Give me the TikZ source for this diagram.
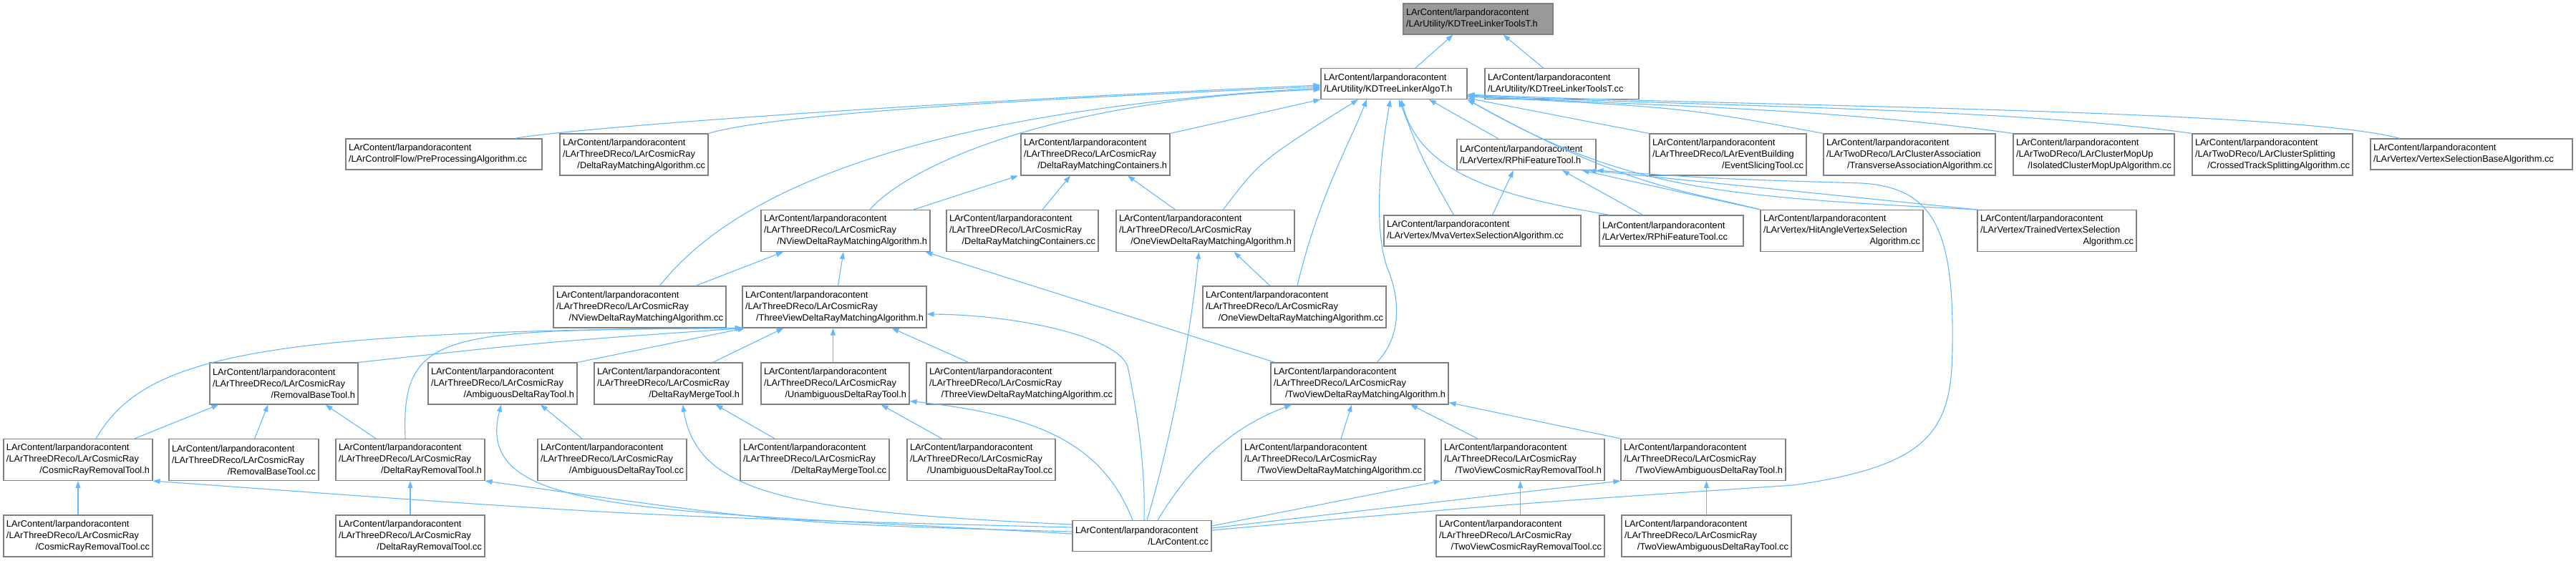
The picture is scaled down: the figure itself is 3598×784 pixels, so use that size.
\documentclass[tikz,border=0pt]{standalone}
\usepackage{fontspec}
\newfontfamily\dox{Liberation Sans}
\usetikzlibrary{arrows.meta}
\definecolor{edgeblue}{HTML}{63B8FF}
\definecolor{boxgray}{HTML}{808080}
\definecolor{rootgray}{HTML}{999999}
\newcommand{\lpc}{LArContent/larpandoracontent}
\newcommand{\lcr}{/LArThreeDReco/LArCosmicRay}
\newcommand{\lastln}[1]{\hspace*{\fill}#1\hspace*{\fill}}
\tikzset{
	file/.style={draw=boxgray,line width=1.1pt,fill=white,align=left,inner xsep=4pt,inner ysep=0pt,font=\dox\fontsize{12.8}{16}\selectfont},
	root/.style={file,fill=rootgray},
	lines2/.style={minimum height=43pt},
	lines3/.style={minimum height=58pt},
	inc/.style={draw=edgeblue,line width=1.1pt,-{Triangle[length=10pt,width=7pt]}}
}

\begin{document}
\begin{tikzpicture}[x=1pt,y=-1pt]
	\useasboundingbox (0,0) rectangle (3598,784);
	% header and its direct includers
	\node[root,lines2,text width=201pt] (toolsh) at (2064.5,26.5) {\lpc\\/LArUtility/KDTreeLinkerToolsT.h};
	\node[file,lines2,text width=196pt] (algoh) at (1947,117) {\lpc\\/LArUtility/KDTreeLinkerAlgoT.h};
	\node[file,lines2,text width=207pt] (toolscc) at (2181.5,117) {\lpc\\/LArUtility/KDTreeLinkerToolsT.cc};
	
	\node[file,lines2,text width=266pt] (preproc) at (620,215.5) {\lpc\\/LArControlFlow/PreProcessingAlgorithm.cc};
	\node[file,lines3,text width=199pt] (drmacc) at (885.5,216) {\lpc\\\lcr\\\lastln{/DeltaRayMatchingAlgorithm.cc}};
	\node[file,lines3,text width=200pt] (containersh) at (1530,216) {\lpc\\\lcr\\\lastln{/DeltaRayMatchingContainers.h}};
	\node[file,lines2,text width=186pt] (rphih) at (2132,216) {\lpc\\/LArVertex/RPhiFeatureTool.h};
	\node[file,lines3,text width=211pt] (slicing) at (2413.5,216) {\lpc\\/LArThreeDReco/LArEventBuilding\\\lastln{/EventSlicingTool.cc}};
	\node[file,lines3,text width=232pt] (transverse) at (2667,216) {\lpc\\/LArTwoDReco/LArClusterAssociation\\\lastln{/TransverseAssociationAlgorithm.cc}};
	\node[file,lines3,text width=217pt] (mopup) at (2924.5,216) {\lpc\\/LArTwoDReco/LArClusterMopUp\\\lastln{/IsolatedClusterMopUpAlgorithm.cc}};
	\node[file,lines3,text width=216pt] (splitting) at (3174,216) {\lpc\\/LArTwoDReco/LArClusterSplitting\\\lastln{/CrossedTrackSplittingAlgorithm.cc}};
	\node[file,lines2,text width=274pt] (vtxbase) at (3452,215.5) {\lpc\\/LArVertex/VertexSelectionBaseAlgorithm.cc};
	
	\node[file,lines3,text width=228pt] (nviewh) at (1181,322.5) {\lpc\\\lcr\\\lastln{/NViewDeltaRayMatchingAlgorithm.h}};
	\node[file,lines3,text width=204pt] (containerscc) at (1428,322.5) {\lpc\\\lcr\\\lastln{/DeltaRayMatchingContainers.cc}};
	\node[file,lines3,text width=241pt] (oneviewh) at (1683.5,322.5) {\lpc\\\lcr\\\lastln{/OneViewDeltaRayMatchingAlgorithm.h}};
	\node[file,lines2,text width=267pt] (mva) at (2070.5,322.5) {\lpc\\/LArVertex/MvaVertexSelectionAlgorithm.cc};
	\node[file,lines2,text width=193pt] (rphicc) at (2334.5,322.5) {\lpc\\/LArVertex/RPhiFeatureTool.cc};
	\node[file,lines3,text width=219pt] (hitangle) at (2572.5,322.5) {\lpc\\/LArVertex/HitAngleVertexSelection\\\lastln{Algorithm.cc}};
	\node[file,lines3,text width=214pt] (trained) at (2873,322.5) {\lpc\\/LArVertex/TrainedVertexSelection\\\lastln{Algorithm.cc}};
	
	\node[file,lines3,text width=233pt] (nviewcc) at (893.5,429) {\lpc\\\lcr\\\lastln{/NViewDeltaRayMatchingAlgorithm.cc}};
	\node[file,lines3,text width=249pt] (threeviewh) at (1165.5,429) {\lpc\\\lcr\\\lastln{/ThreeViewDeltaRayMatchingAlgorithm.h}};
	\node[file,lines3,text width=248pt] (oneviewcc) at (1808,429) {\lpc\\\lcr\\\lastln{/OneViewDeltaRayMatchingAlgorithm.cc}};
	
	\node[file,lines3,text width=199pt] (removalh) at (396.5,536) {\lpc\\\lcr\\\lastln{/RemovalBaseTool.h}};
	\node[file,lines3,text width=200pt] (ambigh) at (702,536) {\lpc\\\lcr\\\lastln{/AmbiguousDeltaRayTool.h}};
	\node[file,lines3,text width=199pt] (mergeh) at (933.5,536) {\lpc\\\lcr\\\lastln{/DeltaRayMergeTool.h}};
	\node[file,lines3,text width=199pt] (unambigh) at (1166.5,536) {\lpc\\\lcr\\\lastln{/UnambiguousDeltaRayTool.h}};
	\node[file,lines3,text width=256pt] (threeviewcc) at (1426,536) {\lpc\\\lcr\\\lastln{/ThreeViewDeltaRayMatchingAlgorithm.cc}};
	\node[file,lines3,text width=240pt] (twoviewh) at (1899,536) {\lpc\\\lcr\\\lastln{/TwoViewDeltaRayMatchingAlgorithm.h}};
	
	\node[file,lines3,text width=200pt] (crrh) at (109,642.5) {\lpc\\\lcr\\\lastln{/CosmicRayRemovalTool.h}};
	\node[file,lines3,text width=201pt] (removalcc) at (340.5,642.5) {\lpc\\\lcr\\\lastln{/RemovalBaseTool.cc}};
	\node[file,lines3,text width=200pt] (drrh) at (573,642.5) {\lpc\\\lcr\\\lastln{/DeltaRayRemovalTool.h}};
	\node[file,lines3,text width=200pt] (ambigcc) at (855,642.5) {\lpc\\\lcr\\\lastln{/AmbiguousDeltaRayTool.cc}};
	\node[file,lines3,text width=200pt] (mergecc) at (1138,642.5) {\lpc\\\lcr\\\lastln{/DeltaRayMergeTool.cc}};
	\node[file,lines3,text width=199pt] (unambigcc) at (1370.5,642.5) {\lpc\\\lcr\\\lastln{/UnambiguousDeltaRayTool.cc}};
	\node[file,lines3,text width=248pt] (twoviewcc) at (1862,642.5) {\lpc\\\lcr\\\lastln{/TwoViewDeltaRayMatchingAlgorithm.cc}};
	\node[file,lines3,text width=220pt] (tvcrrh) at (2127,642.5) {\lpc\\\lcr\\\lastln{/TwoViewCosmicRayRemovalTool.h}};
	\node[file,lines3,text width=222pt] (tvadrh) at (2379,642.5) {\lpc\\\lcr\\\lastln{/TwoViewAmbiguousDeltaRayTool.h}};
	
	\node[file,lines3,text width=200pt] (crrcc) at (109,749) {\lpc\\\lcr\\\lastln{/CosmicRayRemovalTool.cc}};
	\node[file,lines3,text width=200pt] (drrcc) at (573,749) {\lpc\\\lcr\\\lastln{/DeltaRayRemovalTool.cc}};
	\node[file,lines2,text width=186pt] (larcontent) at (1595,749) {\lpc\\\lastln{/LArContent.cc}};
	\node[file,lines3,text width=227pt] (tvcrrcc) at (2123.5,749) {\lpc\\\lcr\\\lastln{/TwoViewCosmicRayRemovalTool.cc}};
	\node[file,lines3,text width=229pt] (tvadrcc) at (2383.5,749) {\lpc\\\lcr\\\lastln{/TwoViewAmbiguousDeltaRayTool.cc}};
	
	% bends of the long connectors
	\coordinate (tvbend) at (1940,380);
	\coordinate (threebend) at (1575,512);
	\coordinate (larbendA) at (2505,678);
	\coordinate (larbendB) at (2727,480);
	\coordinate (larbendC) at (2600,256);
	
	% KDTreeLinkerToolsT.h
	\draw[inc] ([xshift=30pt]algoh.north) -- ([xshift=-35pt]toolsh.south);
	\draw[inc] ([xshift=-26pt]toolscc.north) -- ([xshift=35pt]toolsh.south);
	
	% KDTreeLinkerAlgoT.h
	\draw[inc] ([xshift=99pt]preproc.north) .. controls (790,180) and (1250,145) .. ([yshift=-2pt]algoh.west);
	\draw[inc] (drmacc.north east) .. controls (1080,160) and (1400,140) .. ([yshift=-4pt]algoh.west);
	\draw[inc] ([xshift=28pt]nviewcc.north) .. controls (1000,300) and (1200,160) .. ([yshift=-6pt]algoh.west);
	\draw[inc] ([xshift=34pt]nviewh.north) .. controls (1260,240) and (1450,140) .. ([yshift=-8pt]algoh.west);
	\draw[inc] (containersh.north east) -- (algoh.south west);
	\draw[inc] ([xshift=25pt]oneviewh.north) .. controls (1760,225) .. ([xshift=-50pt]algoh.south);
	\draw[inc] ([xshift=4pt]oneviewcc.north) .. controls (1840,280) and (1885,200) .. ([xshift=-38pt]algoh.south);
	\draw[inc] ([xshift=24pt]twoviewh.north) .. controls (1958,470) and (1955,420) .. (tvbend) .. controls (1922,340) and (1922,250) .. ([xshift=-5pt]algoh.south);
	\draw[inc] ([xshift=-40pt]mva.north) .. controls (1985,220) .. ([xshift=7pt]algoh.south);
	\draw[inc] ([xshift=-86pt]rphicc.north) .. controls (2100,275) and (1985,245) .. ([xshift=10pt]algoh.south);
	\draw[inc] ([xshift=-39pt]rphih.north) -- ([xshift=49pt]algoh.south);
	\draw[inc] (slicing.north west) -- ([yshift=2pt]algoh.south east);
	\draw[inc] (transverse.north west) .. controls (2350,150) .. ([yshift=4pt]algoh.south east);
	\draw[inc] (mopup.north west) .. controls (2550,150) and (2300,148) .. ([yshift=5pt]algoh.south east);
	\draw[inc] (splitting.north west) .. controls (2800,150) and (2350,148) .. ([yshift=6pt]algoh.south east);
	\draw[inc] ([xshift=-100pt]vtxbase.north) .. controls (3200,152) and (2400,148) .. ([yshift=7pt]algoh.south east);
	\draw[inc] (hitangle.north west) .. controls (2350,265) and (2270,262) .. (algoh.south east);
	\draw[inc] (trained.north west) .. controls (2400,275) and (2270,265) .. (algoh.south east);
	
	% RPhiFeatureTool.h
	\draw[inc] ([xshift=14pt]mva.north) -- ([xshift=-18pt]rphih.south);
	\draw[inc] ([xshift=-40pt]rphicc.north) -- ([xshift=50pt]rphih.south);
	\draw[inc] (hitangle.north west) -- ([xshift=-20pt]rphih.south east);
	\draw[inc] (trained.north west) -- ([xshift=-10pt]rphih.south east);
	\draw[inc] ([yshift=8pt]larcontent.east) .. controls (2100,705) .. (larbendA) .. controls (2700,650) and (2727,600) .. (larbendB) .. controls (2729,320) and (2700,262) .. (larbendC) .. controls (2400,250) .. (rphih.south east);
	
	% DeltaRayMatchingContainers.h
	\draw[inc] ([xshift=95pt]nviewh.north) -- ([xshift=-108pt]containersh.south);
	\draw[inc] ([xshift=28pt]containerscc.north) -- ([xshift=-35pt]containersh.south);
	\draw[inc] ([xshift=-42pt]oneviewh.north) -- ([xshift=45pt]containersh.south);
	
	% NViewDeltaRayMatchingAlgorithm.h
	\draw[inc] ([xshift=78pt]nviewcc.north) -- ([xshift=-87pt]nviewh.south);
	\draw[inc] ([xshift=5pt]threeviewh.north) -- ([xshift=-3pt]nviewh.south);
	\draw[inc] ([xshift=-118pt]twoviewh.north) -- ([xshift=-7pt]nviewh.south east);
	
	% OneViewDeltaRayMatchingAlgorithm.h
	\draw[inc] ([xshift=-34pt]oneviewcc.north) -- ([xshift=40pt]oneviewh.south);
	\draw[inc] ([xshift=7pt]larcontent.north) .. controls (1640,600) and (1665,450) .. ([xshift=-9pt]oneviewh.south);
	
	% ThreeViewDeltaRayMatchingAlgorithm.h
	\draw[inc] ([xshift=25pt]crrh.north) .. controls (200,500) and (350,462) .. (threeviewh.south west);
	\draw[inc] (removalh.north east) .. controls (760,478) .. ([xshift=2pt]threeviewh.south west);
	\draw[inc] ([xshift=-7pt]drrh.north) .. controls (560,460) and (620,462) .. ([xshift=1pt]threeviewh.south west);
	\draw[inc] (ambigh.north east) -- ([xshift=4pt]threeviewh.south west);
	\draw[inc] ([xshift=62pt]mergeh.north) -- ([xshift=-71pt]threeviewh.south);
	\draw[inc] ([xshift=-3pt]unambigh.north) -- ([xshift=-2pt]threeviewh.south);
	\draw[inc] ([xshift=-73pt]threeviewcc.north) -- ([xshift=80pt]threeviewh.south);
	\draw[inc] ([xshift=3pt]larcontent.north) .. controls (1600,640) and (1585,560) .. (threebend) .. controls (1560,470) and (1420,440) .. ([yshift=-10pt]threeviewh.east);
	
	% TwoViewDeltaRayMatchingAlgorithm.h
	\draw[inc] ([xshift=11pt]twoviewcc.north) -- ([xshift=-11pt]twoviewh.south);
	\draw[inc] ([xshift=-63pt]tvcrrh.north) -- ([xshift=71pt]twoviewh.south);
	\draw[inc] (tvadrh.north west) -- ([yshift=3pt]twoviewh.south east);
	\draw[inc] ([xshift=22pt]larcontent.north) .. controls (1675,630) and (1740,590) .. ([xshift=-95pt]twoviewh.south);
	
	% tools
	\draw[inc] ([xshift=79pt]crrh.north) -- ([xshift=-91pt]removalh.south);
	\draw[inc] ([xshift=15pt]removalcc.north) -- ([xshift=-22pt]removalh.south);
	\draw[inc] ([xshift=-48pt]drrh.north) -- ([xshift=58pt]removalh.south);
	\draw[inc] (crrcc.north) -- (crrh.south);
	\draw[inc] (drrcc.north) -- (drrh.south);
	\draw[inc] ([xshift=-42pt]ambigcc.north) -- ([xshift=53pt]ambigh.south);
	\draw[inc] ([xshift=-56pt]mergecc.north) -- ([xshift=66pt]mergeh.south);
	\draw[inc] ([xshift=-55pt]unambigcc.north) -- ([xshift=64pt]unambigh.south);
	\draw[inc] (tvcrrcc.north) -- (tvcrrcc.north |- tvcrrh.south);
	\draw[inc] (tvadrcc.north) -- (tvadrcc.north |- tvadrh.south);
	
	% LArContent.cc
	\draw[inc] ([yshift=12pt]larcontent.west) .. controls (900,722) .. (crrh.south east);
	\draw[inc] ([yshift=6pt]larcontent.west) .. controls (1100,732) .. (drrh.south east);
	\draw[inc] ([yshift=3pt]larcontent.west) .. controls (900,712) and (660,720) .. ([xshift=-2pt]ambigh.south);
	\draw[inc] ([yshift=16pt]larcontent.west) .. controls (1100,715) and (975,690) .. ([xshift=20pt]mergeh.south);
	\draw[inc] ([xshift=-13pt]larcontent.north) .. controls (1540,620) and (1450,580) .. ([yshift=5pt]unambigh.south east);
	\draw[inc] ([yshift=14pt]larcontent.east) -- (tvcrrh.south west);
	\draw[inc] ([yshift=11pt]larcontent.east) -- (tvadrh.south west);
\end{tikzpicture}
\end{document}
